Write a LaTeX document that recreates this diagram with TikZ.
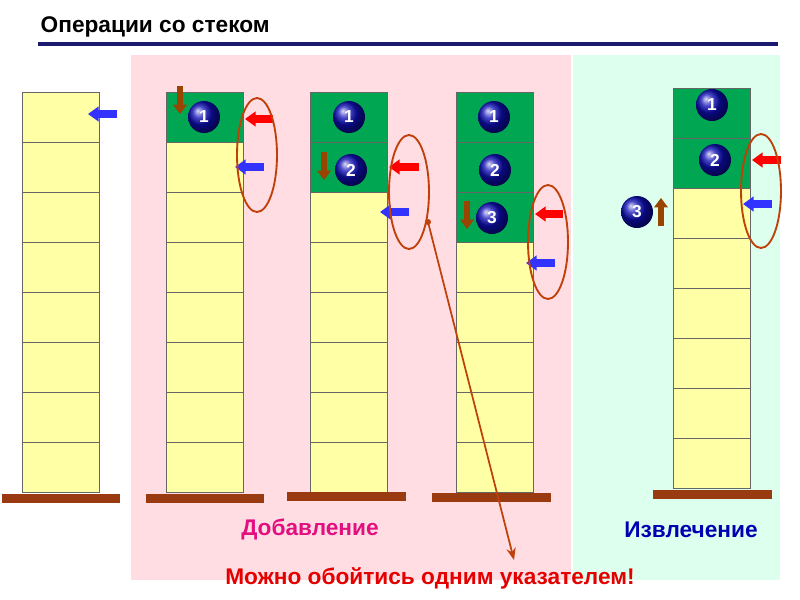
\documentclass[tikz,border=0pt]{standalone}
\usepackage{fontspec}
\setmainfont{Liberation Sans}
\usetikzlibrary{arrows.meta,shadings}
\definecolor{cellY}{HTML}{FFFFA6}
\definecolor{cellG}{HTML}{00A651}
\definecolor{pinkbg}{HTML}{FFDDE2}
\definecolor{greenbg}{HTML}{DDFFEE}
\definecolor{basec}{HTML}{9A3A10}
\definecolor{ptrR}{HTML}{FF0000}
\definecolor{ptrB}{HTML}{3333FF}
\definecolor{brownA}{HTML}{994400}
\definecolor{ellc}{HTML}{C0400A}
\definecolor{navy}{HTML}{1A1A70}
\tikzset{
  cellbox/.style={draw=black!60, line width=0.6pt},
  basebar/.style={fill=basec, draw=none},
  redptr/.style={draw=ptrR, line width=5.5pt, -{Triangle[length=8pt,width=11pt]}},
  blueptr/.style={draw=ptrB, line width=5.5pt, -{Triangle[length=8pt,width=11pt]}},
  brownptr/.style={draw=brownA, line width=5pt, -{Triangle[length=7pt,width=10pt]}},
  badge/.style={circle, inner sep=0pt, minimum size=24pt, ball color=blue!50!navy, text=white, font=\bfseries\fontsize{13}{13}\selectfont},
  ell/.style={draw=ellc, line width=1.4pt},
  big/.style={font=\bfseries\fontsize{17}{17}\selectfont}
}
\newcommand{\stk}[4]{% x, top, greencount, name
  \foreach \i in {0,...,7}{
    \pgfmathsetmacro{\yy}{#2+50*\i}
    \ifnum\i<#3 \def\fc{cellG}\else\def\fc{cellY}\fi
    \filldraw[cellbox, fill=\fc] (#1,\yy) rectangle (#1+77,\yy+50);
  }
}
\begin{document}
\begin{tikzpicture}[x=0.75pt,y=-0.75pt]
\useasboundingbox (0,0) rectangle (800,600);
\fill[white] (0,0) rectangle (800,600);
\fill[pinkbg] (131,55) rectangle (571,580);
\fill[greenbg] (573,55) rectangle (780,580);
\node[anchor=west, font=\bfseries\fontsize{17}{17}\selectfont, text=black] (title) at (36,27) {Операции со стеком};
\draw[navy, line width=2.5pt] (38,44) -- (778,44);
\stk{22}{92}{0}{}
\stk{166}{92}{1}{}
\stk{310}{92}{2}{}
\stk{456}{92}{3}{}
\stk{673}{88}{2}{}
\fill[basec] (2,494) rectangle (120,503);
\fill[basec] (146,494) rectangle (264,503);
\fill[basec] (287,492) rectangle (406,501);
\fill[basec] (432,493) rectangle (551,502);
\fill[basec] (653,490) rectangle (772,499);
% brown arrows
\draw[brownptr] (180,86) -- (180,114);
\draw[brownptr] (324,152) -- (324,180);
\draw[brownptr] (467,201) -- (467,229);
\draw[brownptr] (661,226) -- (661,198);
% badges
\node[badge] (b21) at (204,117) {1};
\node[badge] (b31) at (349,117) {1};
\node[badge] (b32) at (351,170) {2};
\node[badge] (b41) at (494,117) {1};
\node[badge] (b42) at (495,170) {2};
\node[badge] (b43) at (492,218) {3};
\node[badge] (b51) at (712,105) {1};
\node[badge] (b52) at (715,160) {2};
\node[badge] (b53) at (637,212) {3};
% pointers
\draw[blueptr] (117,114) -- (88,114);
\draw[redptr] (273,119) -- (245,119);
\draw[blueptr] (264,167) -- (235,167);
\draw[redptr] (419,167) -- (389,167);
\draw[blueptr] (409,212) -- (380,212);
\draw[redptr] (563,214) -- (535,214);
\draw[blueptr] (555,263) -- (526,263);
\draw[redptr] (781,160) -- (752,160);
\draw[blueptr] (772,204) -- (743,204);
% ellipses
\draw[ell] (257,155) ellipse [x radius=20, y radius=57];
\draw[ell] (409,192) ellipse [x radius=20, y radius=57];
\draw[ell] (548,242) ellipse [x radius=20, y radius=57];
\draw[ell] (761,191) ellipse [x radius=20, y radius=57];
% labels
\node[big, text=magenta!80!purple] (add) at (310,529) {Добавление};
\node[big, text=blue!70!black] (ext) at (691,530) {Извлечение};
\node[big, text=red!90!black] (note) at (430,578) {Можно обойтись одним указателем!};
\coordinate (st) at (428,222);
\coordinate (en) at (514,560);
\fill[ellc] (st) circle (3);
\draw[ellc, line width=1.3pt, -{Stealth[length=9pt,width=7pt]}] (st) -- (en);
\end{tikzpicture}
\end{document}
